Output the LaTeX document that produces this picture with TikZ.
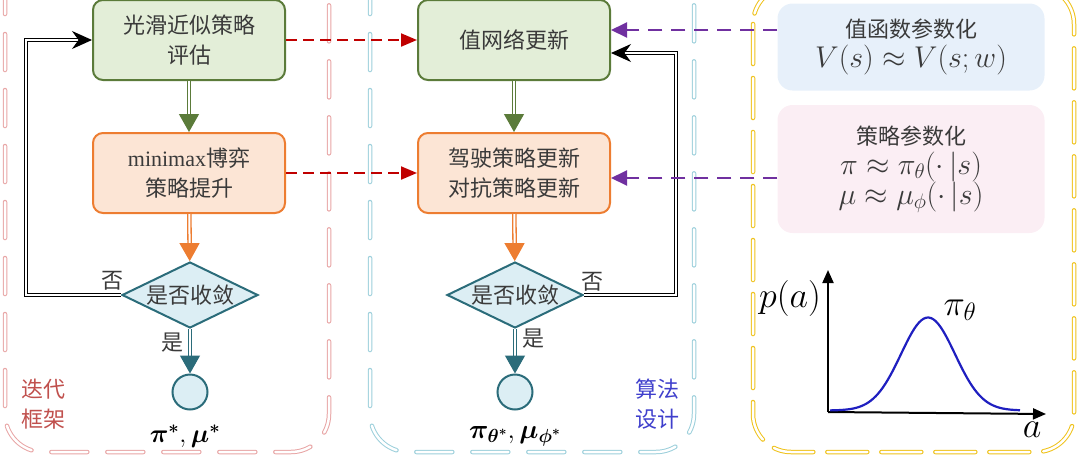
\RequirePackage{fix-cm}
\documentclass[tikz,border=0pt]{standalone}
\usepackage{fontspec}
\usepackage{amsmath,bm}
\newfontfamily\cjk{Noto Sans CJK SC}
\newfontfamily\timesfont{Liberation Serif}
\usetikzlibrary{arrows.meta,shapes.geometric}
\definecolor{leafgreen}{HTML}{5B7B3A}
\definecolor{leaffill}{HTML}{E3EED8}
\definecolor{peach}{HTML}{ED7D31}
\definecolor{peachfill}{HTML}{FCE5D5}
\definecolor{tealline}{HTML}{2B6C7A}
\definecolor{tealfill}{HTML}{DCEEF4}
\definecolor{linkred}{HTML}{C00000}
\definecolor{linkpurple}{HTML}{7030A0}
\definecolor{framepink}{HTML}{E8A5A5}
\definecolor{frameblue}{HTML}{9CCFDB}
\definecolor{framegold}{HTML}{EFC21A}
\definecolor{vfill}{HTML}{E7F0FA}
\definecolor{pfill}{HTML}{FBEEF4}
\definecolor{textgray}{HTML}{3A3A3A}
\definecolor{tagred}{HTML}{C0504D}
\definecolor{tagblue}{HTML}{3F3FCC}
\definecolor{curveblue}{HTML}{1F1FC0}
\newcommand{\mathsz}{\fontsize{30}{35}\selectfont}

\begin{document}
\begin{tikzpicture}[x=1pt, y=-1pt,
  font=\cjk\fontsize{22}{30}\selectfont, text=textgray,
  greenbox/.style={draw=leafgreen, fill=leaffill, line width=2pt, rounded corners=10pt,
    minimum width=192pt, minimum height=80pt, align=center},
  orangebox/.style={greenbox, draw=peach, fill=peachfill},
  decision/.style={diamond, aspect=2, draw=tealline, fill=tealfill, line width=2pt,
    minimum width=136pt, minimum height=66pt, inner sep=0pt},
  endpoint/.style={circle, draw=tealline, fill=tealfill, line width=2pt, minimum size=35pt},
  flow/.style={double=white, double distance=2pt, line width=1.3pt,
    -{Triangle[length=18pt,width=20pt]}},
  loopback/.style={double=white, double distance=2pt, line width=1.2pt, draw=black,
    -{Stealth[length=20pt,width=18pt]}},
  redlink/.style={draw=linkred, line width=2pt, dash pattern=on 11pt off 6pt,
    -{Triangle[length=16pt,width=13pt]}},
  purplelink/.style={draw=linkpurple, line width=2pt, dash pattern=on 14pt off 9pt,
    -{Triangle[length=16pt,width=15pt]}},
  frame/.style={double=white, double distance=2.5pt, line width=1pt, line cap=round,
    dash pattern=on 36pt off 20pt, rounded corners=38pt},
  parambox/.style={rounded corners=15pt, minimum width=267pt, align=center},
  plotlabel/.style={text=black, font=\fontsize{36}{40}\selectfont}]
  \useasboundingbox (0,0) rectangle (1080,459);
  % Frames
  \begin{scope}
    \clip (0,0) rectangle (1080,459);
    \draw[frame, draw=framepink] (5,-60) rectangle (329,452);
    \draw[frame, draw=frameblue] (370,-60) rectangle (694,452);
    \draw[frame, draw=framegold, dash pattern=on 40pt off 14pt] (753,-14) rectangle (1074,452);
  \end{scope}
  % Left flow
  \node[greenbox] (evalbox) at (189,40) {光滑近似策略\\评估};
  \node[orangebox] (gamebox) at (189,173) {{\timesfont minimax}博弈\\策略提升};
  \node[decision] (convL) at (190,295) {是否收敛};
  \node[endpoint] (endL) at (190,392) {};
  \draw[flow, draw=leafgreen] (evalbox) -- (gamebox);
  \draw[flow, draw=peach] (gamebox) -- (convL);
  \draw[flow, draw=tealline] (convL) -- (endL);
  \draw[loopback] (convL.west) -- ++(-95,0) |- (evalbox.west);
  \node (noL) at (112,281) {否};
  \node (yesL) at (172,343) {是};
  \node[text=black, font=\fontsize{26}{30}\selectfont] (optL) at (185,436) {$\bm{\pi^*},\bm{\mu^*}$};
  \node[text=tagred, align=left] (tagL) at (43,404) {迭代\\框架};
  % Middle flow
  \node[greenbox] (valbox) at (514,40) {值网络更新};
  \node[orangebox] (polbox) at (514,173) {驾驶策略更新\\对抗策略更新};
  \node[decision] (convR) at (515,295) {是否收敛};
  \node[endpoint] (endR) at (515,392) {};
  \draw[flow, draw=leafgreen] (valbox) -- (polbox);
  \draw[flow, draw=peach] (polbox) -- (convR);
  \draw[flow, draw=tealline] (convR) -- (endR);
  \coordinate (valIn) at ([yshift=-13pt]valbox.east);
  \draw[loopback] (convR.east) -| ([xshift=65pt]valIn) -- (valIn);
  \node (noR) at (592,282) {否};
  \node (yesR) at (533,339) {是};
  \node[text=black, font=\fontsize{27}{30}\selectfont] (optR) at (515,436) {$\bm{\pi_{\theta^*}},\bm{\mu_{\phi^*}}$};
  \node[text=tagblue, align=left] (tagR) at (657,404) {算法\\设计};
  % Links between columns
  \draw[redlink] (evalbox.east) -- (valbox.west);
  \draw[redlink] (gamebox.east) -- (polbox.west);
  % Parameter boxes
  \node[parambox, fill=vfill, minimum height=87pt] (vfun) at (911,47)
    {值函数参数化\\{\mathsz$V(s)\approx V(s;w)$}};
  \node[parambox, fill=pfill, minimum height=128pt] (pfun) at (911,169)
    {策略参数化\\{\mathsz$\pi\approx\pi_\theta(\cdot\,|s)$}\\{\mathsz$\mu\approx\mu_\phi(\cdot\,|s)$}};
  \coordinate (vfunOut) at ([yshift=17pt]vfun.west);
  \coordinate (pfunOut) at ([yshift=-9pt]pfun.west);
  \draw[purplelink] (vfunOut) -- (vfunOut -| valbox.east);
  \draw[purplelink] (pfunOut) -- (pfunOut -| polbox.east);
  % Policy density plot
  \coordinate (orig) at (828,412);
  \coordinate (ytip) at (828,270);
  \coordinate (xtip) at (1046,414);
  \draw[line width=2pt, -{Triangle[length=13pt,width=11pt]}] (orig) -- (ytip);
  \draw[line width=2pt, -{Triangle[length=13pt,width=11pt]}] (orig) -- (xtip);
  \draw[curveblue, line width=2.2pt, samples=80, domain=830:1020]
    plot (\x, {410.5 - 93*exp(-0.5*pow((\x-928)/27,2))});
  \node[plotlabel] (pa) at (790,298) {$p(a)$};
  \node[plotlabel] (ptheta) at (960,310) {$\pi_\theta$};
  \node[plotlabel] (aa) at (1032,430) {$a$};
\end{tikzpicture}
\end{document}
